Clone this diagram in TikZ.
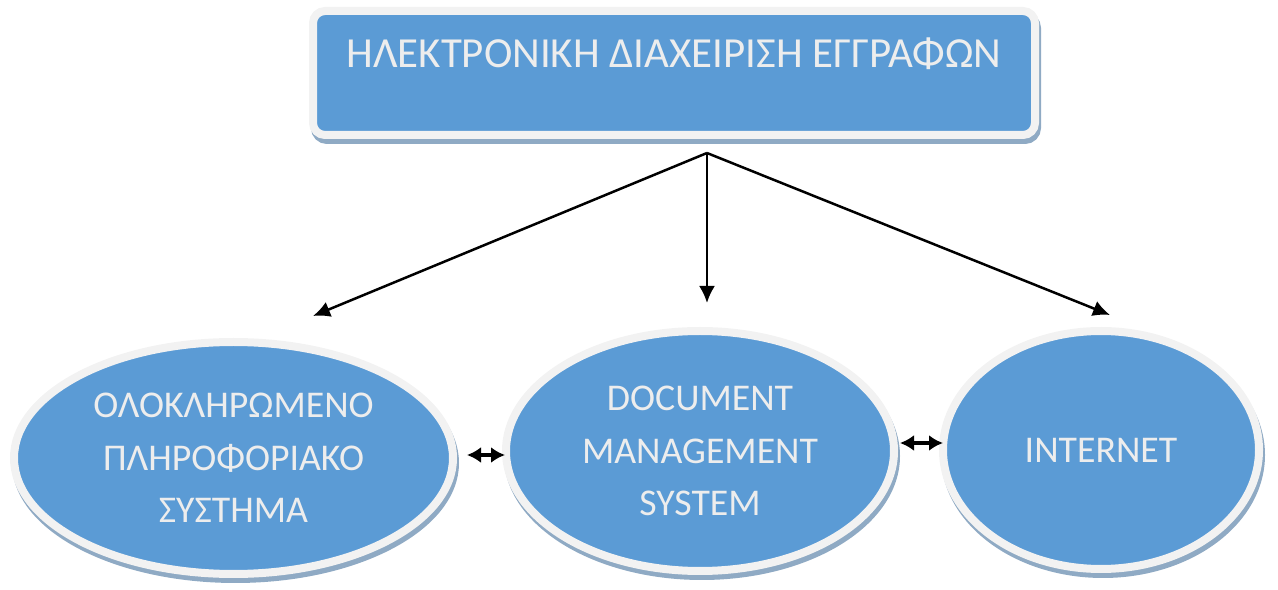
\documentclass[tikz,border=0pt]{standalone}
\usepackage{fontspec}
\setmainfont{Carlito}
\usepackage{xcolor}
\usepackage{tikz}
\usetikzlibrary{arrows.meta,shapes.geometric,shadows}
\definecolor{cFill}{HTML}{5B9BD5}
\definecolor{cRim}{HTML}{F2F2F2}
\definecolor{cShade}{HTML}{8FAAC4}
\definecolor{cText}{HTML}{EDEDED}
\tikzset{
  shade/.style ={drop shadow={shadow xshift=0.4mm, shadow yshift=-1mm, opacity=1,
                 fill=cShade, draw=cShade, line width=1.6mm}},
  title/.style ={draw=cRim, line width=1.6mm, fill=cFill, rounded corners=2.4mm, shade,
                 minimum width=14.44cm, minimum height=2.48cm, inner sep=0pt, text=cText,
                 font=\fontsize{24.4}{29}\selectfont, text height=6mm, text depth=8mm},
  part/.style  ={ellipse, draw=cRim, line width=1.6mm, fill=cFill, shade, inner sep=0pt,
                 align=center, text=cText, font=\fontsize{21.5}{29.9}\selectfont},
  arrow/.style ={-{Latex[length=3.4mm,width=3.2mm]}, line width=0.5mm, draw=black},
  darrow/.style={{Latex[length=2.8mm,width=3.2mm]}-{Latex[length=2.8mm,width=3.2mm]},
                 line width=0.7mm, draw=black},
}
\begin{document}
\begin{tikzpicture}
  \useasboundingbox (0,0) rectangle (25.56,11.8);
  \node[title] (top) at (13.48,10.34) {ΗΛΕΚΤΡΟΝΙΚΗ ΔΙΑΧΕΙΡΙΣΗ ΕΓΓΡΑΦΩΝ};
  \node[part, minimum width=8.78cm, minimum height=4.64cm] (ops) at (4.67,2.64)
    {ΟΛΟΚΛΗΡΩΜΕΝΟ\\ΠΛΗΡΟΦΟΡΙΑΚΟ\\ΣΥΣΤΗΜΑ};
  \node[part, minimum width=7.76cm, minimum height=4.8cm] (dms) at (14.0,2.78)
    {DOCUMENT\\MANAGEMENT\\SYSTEM};
  \node[part, minimum width=6.32cm, minimum height=4.76cm] (net) at (22.02,2.8)
    {INTERNET};
  % free ends of the connectors
  \coordinate (hub) at (14.14,8.74);
  \coordinate (toOps) at (6.26,5.48);
  \coordinate (toDms) at (14.14,5.74);
  \coordinate (toNet) at (22.2,5.5);
  \coordinate (opsR) at (9.34,2.7);
  \coordinate (dmsL) at (10.1,2.7);
  \coordinate (dmsR) at (18.0,2.94);
  \coordinate (netL) at (18.86,2.94);
  \draw[arrow] (hub) -- (toOps);
  \draw[arrow] (hub) -- (toDms);
  \draw[arrow] (hub) -- (toNet);
  \draw[darrow] (opsR) -- (dmsL);
  \draw[darrow] (dmsR) -- (netL);
\end{tikzpicture}
\end{document}
